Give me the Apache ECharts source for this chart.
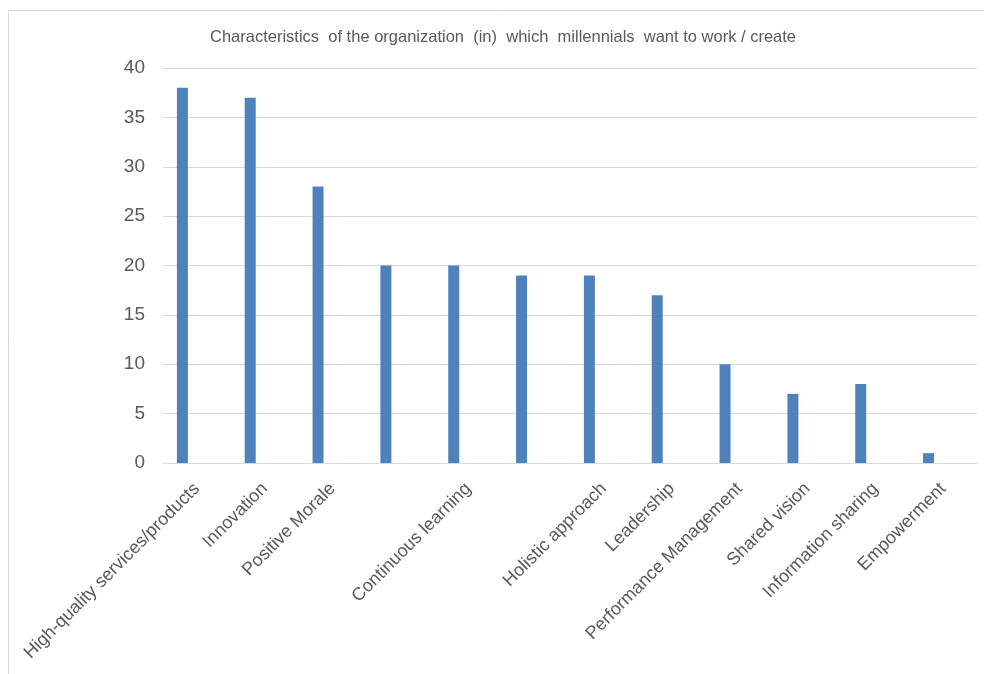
<!DOCTYPE html>
<html>
<head>
<meta charset="utf-8">
<script src="https://cdn.jsdelivr.net/npm/echarts@6/dist/echarts.min.js"></script>
<style>html,body{margin:0;padding:0;background:#fff;}#c{width:984px;height:674px;}</style>
</head>
<body>
<div id="c"></div>
<script>
const titleText = "Characteristics  of the organization  (in)  which  millennials  want to work / create";
const categories = ["High-quality services/products", "Innovation", "Positive Morale", "", "Continuous learning", "", "Holistic approach", "Leadership", "Performance Management", "Shared vision", "Information sharing", "Empowerment"];
const values = [38, 37, 28, 20, 20, 19, 19, 17, 10, 7, 8, 1];
const emptySeries = [null, null, null, null, null, null, null, null, null, null, null, null];
const yTicks = [0, 5, 10, 15, 20, 25, 30, 35, 40];

const chart = echarts.init(document.getElementById('c'), null, {renderer: 'canvas'});
chart.setOption({
  animation: false,
  backgroundColor: '#fff',
  title: {
    text: titleText,
    left: 205,
    top: 24,
    textStyle: {fontFamily: 'Liberation Sans', fontSize: 16.5, fontWeight: 'normal', color: '#595959'}
  },
  graphic: [{
    type: 'rect', silent: true,
    shape: {x: 8.5, y: 10.5, width: 1100, height: 800},
    style: {fill: 'none', stroke: '#d9d9d9', lineWidth: 1}
  }],
  grid: {left: 163, right: 7, top: 68, bottom: 211, containLabel: false},
  xAxis: {
    type: 'category',
    data: categories,
    axisLine: {show: true, lineStyle: {color: '#d9d9d9', width: 1}},
    axisTick: {show: false},
    axisLabel: {interval: 0, rotate: 45, color: '#595959', fontFamily: 'Liberation Sans', fontSize: 18, margin: 23}
  },
  yAxis: {
    type: 'value',
    min: yTicks[0], max: yTicks[yTicks.length - 1], interval: 5,
    axisLine: {show: false},
    axisTick: {show: false},
    splitLine: {lineStyle: {color: '#d9d9d9', width: 1}},
    axisLabel: {color: '#595959', fontFamily: 'Liberation Sans', fontSize: 19, margin: 18}
  },
  series: [
    {type: 'bar', data: values, barWidth: 11, barGap: '164%', itemStyle: {color: '#4f81bd'}},
    {type: 'bar', data: emptySeries, barWidth: 11, itemStyle: {color: '#c0504d'}}
  ]
});
</script>
</body>
</html>
